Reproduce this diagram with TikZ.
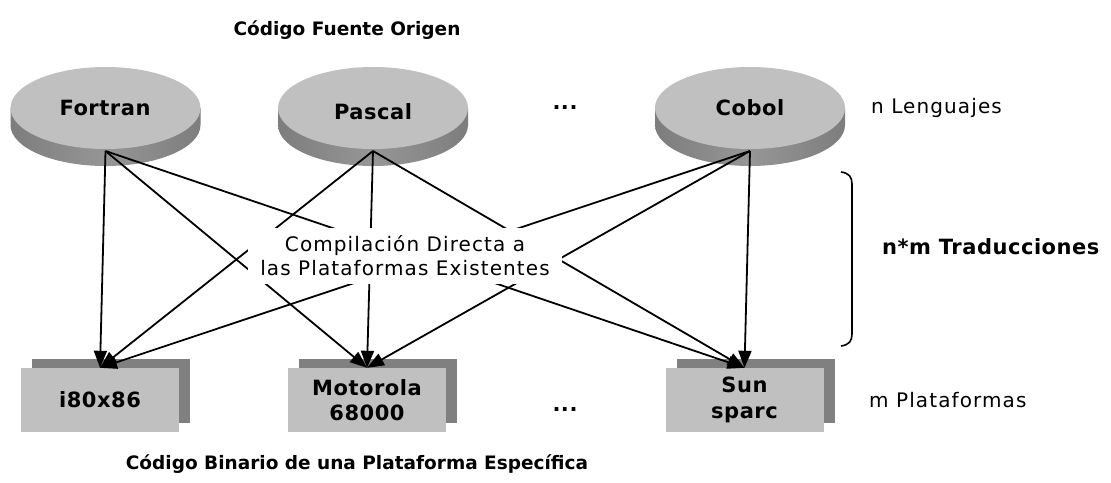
\documentclass[tikz,border=0pt]{standalone}
\usepackage{fontspec}
\setmainfont{DejaVu Sans}
\newfontfamily\regf{DejaVu Sans}[LetterSpace=5.5]
\newfontfamily\labf{DejaVu Sans}[LetterSpace=2.5]
\newfontfamily\titf{DejaVu Sans}[LetterSpace=0]
\usetikzlibrary{arrows.meta,shadows}
\definecolor{facegray}{RGB}{192,192,192}
\definecolor{shadowgray}{RGB}{128,128,128}
\definecolor{sidegray}{RGB}{150,150,150}
\definecolor{sidedark}{RGB}{125,125,125}
\tikzset{
  labeltext/.style={font={\labf\bfseries\fontsize{21}{25.5}\selectfont}, align=center, inner sep=0pt},
  plaintext/.style={font={\regf\fontsize{20}{24}\selectfont}, align=center, inner sep=0pt},
  titletext/.style={font={\titf\bfseries\fontsize{18.5}{22}\selectfont}, inner sep=0pt},
  platbox/.style={fill=facegray, minimum width=158pt, minimum height=64pt, inner sep=0pt,
    labeltext, drop shadow={shadow xshift=11pt, shadow yshift=9.5pt, opacity=1, fill=shadowgray}},
  conn/.style={line width=1.8pt, -{Triangle[length=17pt,width=13pt]}},
  centerbox/.style={plaintext, fill=white, inner xsep=12pt, inner ysep=8pt},
}
\newcommand{\disk}[3]{% center x, center y, name
  \shade[left color=sidedark, right color=sidedark, middle color=sidegray]
    (#1-95,#2) -- (#1-95,#2+17) arc[start angle=180, end angle=360, x radius=95, y radius=-41] -- (#1+95,#2) -- cycle;
  \fill[facegray] (#1,#2) ellipse[x radius=95, y radius=41];
  \coordinate (#3) at (#1,#2+43);
}
\begin{document}
\begin{tikzpicture}[x=1pt,y=-1pt]
\useasboundingbox (0,0) rectangle (1111,482);
\fill[white] (0,0) rectangle (1111,482);

% source disks
\disk{105.5}{108}{fo}
\disk{373}{108}{pa}
\disk{750}{108}{co}
\node[labeltext] (fortran) at (105,108) {Fortran};
\node[labeltext] (pascal) at (373,112) {Pascal};
\node[labeltext] (cobol) at (750,108) {Cobol};
\node[labeltext] (dots1) at (565,108) {...};

% titles
\node[titletext] (titletop) at (347,30) {Código Fuente Origen};
\node[titletext] (titlebot) at (357,464) {Código Binario de una Plataforma Específica};

% side labels
\node[plaintext, anchor=west] (nleng) at (871,108) {n Lenguajes};
\node[plaintext, anchor=west] (mplat) at (869,400) {m Plataformas};
\node[labeltext, anchor=west] (nm) at (882,247) {n*m Traducciones};

% platform boxes
\node[platbox] (i80) at (100,400) {i80x86};
\node[platbox] (mot) at (367,400) {Motorola\\68000};
\node[platbox] (sun) at (744.5,400) {Sun\\sparc};
\node[labeltext] (dots2) at (565,410) {...};

% connectors
\foreach \s in {fo,pa,co}{
  \foreach \t in {i80,mot,sun}{
    \draw[conn] (\s) -- (\t.north);
  }
}

% centre label over the lines
\node[centerbox] (comp) at (405,256) {Compilación Directa a\\las Plataformas Existentes};

% brace
\draw[line width=1.6pt] (841,172) .. controls (849,173) and (852,177) .. (852,184)
  -- (852,334) .. controls (852,341) and (849,345) .. (841,346);
\end{tikzpicture}
\end{document}
